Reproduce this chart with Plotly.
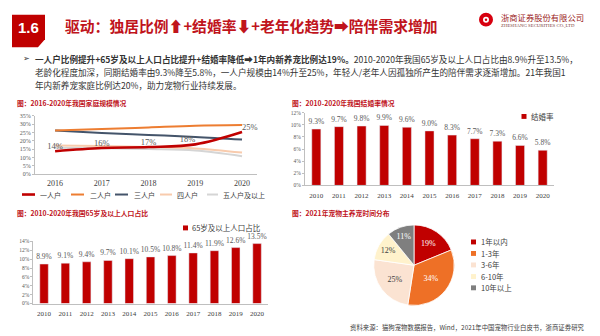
import plotly.graph_objects as go

W, H = 600, 336


def px(x):
    return x / W


def py(y):
    return 1 - y / H


# ---------------- data ----------------
hh_years = [2016, 2017, 2018, 2019, 2020]
hh_one = [13.8, 15.7, 16.3, 17.9, 25.3]
hh_two = [26.2, 27.1, 28.1, 29.1, 29.5]
hh_three = [26.2, 24.8, 23.6, 22.4, 20.8]
hh_four = [17.3, 17.0, 16.4, 15.5, 13.0]
hh_five = [15.9, 15.6, 15.1, 14.2, 10.8]
hh_one_labels = ["14%", "16%", "17%", "18%", "25%"]
hh_names = ["一人户", "二人户", "三人户", "四人户", "五人户及以上"]

years_11 = ["2010", "2011", "2012", "2013", "2014", "2015", "2016", "2017", "2018", "2019", "2020"]
marriage_rate = [9.3, 9.7, 9.8, 9.9, 9.6, 9.0, 8.3, 7.7, 7.3, 6.6, 5.8]
marriage_labels = ["9.3%", "9.7%", "9.8%", "9.9%", "9.6%", "9.0%", "8.3%", "7.7%", "7.3%", "6.6%", "5.8%"]
aged_share = [8.9, 9.1, 9.4, 9.7, 10.1, 10.5, 10.8, 11.4, 11.9, 12.6, 13.5]
aged_labels = ["8.9%", "9.1%", "9.4%", "9.7%", "10.1%", "10.5%", "10.8%", "11.4%", "11.9%", "12.6%", "13.5%"]

pet_time = ["1年以内", "1-3年", "3-6年", "6-10年", "10年以上"]
pet_share = [19, 34, 25, 12, 11]
pet_labels = ["19%", "34%", "25%", "12%", "11%"]

# ---------------- styles ----------------
RED = "#C00000"
TITLE_RED = "#C0141C"
hh_colors = ["#C00000", "#ED7D31", "#44546A", "#F8CBAD", "#D5D5D5"]
hh_widths = [2.6, 2, 2, 2, 2]
pet_colors = ["#C00000", "#EE7026", "#FBE3D2", "#FFF2CC", "#7F7F7F"]
pet_text_colors = ["white", "white", "#404040", "#404040", "white"]
CJK = "Noto Sans CJK SC"
SERIF = "Liberation Serif"
AX = "#BFBFBF"
TICK = "#595959"

fig = go.Figure()

# ---- chart 1: household size lines ----
series = [hh_one, hh_two, hh_three, hh_four, hh_five]
order = [4, 3, 2, 1, 0]
for i in order:
    fig.add_trace(go.Scatter(
        x=hh_years, y=series[i], name=hh_names[i],
        mode="lines+text" if i == 0 else "lines",
        line=dict(color=hh_colors[i], width=hh_widths[i], shape="spline"),
        text=hh_one_labels if i == 0 else None,
        textposition=["top center", "top center", "top center", "top left", "top right"] if i == 0 else None,
        textfont=dict(family=SERIF, size=8.5, color=TICK),
        cliponaxis=False,
        xaxis="x", yaxis="y", showlegend=False, hoverinfo="skip",
    ))

# ---- chart 2: marriage rate bars ----
fig.add_trace(go.Bar(
    x=years_11, y=marriage_rate, name="结婚率",
    marker=dict(color=RED), text=marriage_labels, textposition="outside", constraintext="none",
    textfont=dict(family=SERIF, size=7.5, color=TICK), cliponaxis=False,
    xaxis="x2", yaxis="y2", showlegend=False,
))

# ---- chart 3: 65+ population share bars ----
fig.add_trace(go.Bar(
    x=years_11, y=aged_share, name="65岁及以上人口占比",
    marker=dict(color=RED), text=aged_labels, textposition="outside", constraintext="none",
    textfont=dict(family=SERIF, size=7.5, color=TICK), cliponaxis=False,
    xaxis="x3", yaxis="y3", showlegend=False,
))

# ---- chart 4: pie ----
fig.add_trace(go.Pie(
    labels=pet_time, values=pet_share, text=pet_labels, textinfo="text",
    sort=False, direction="clockwise", rotation=0,
    marker=dict(colors=pet_colors, line=dict(color="white", width=0.8)),
    textfont=dict(family=SERIF, size=8, color=pet_text_colors),
    insidetextorientation="horizontal",
    domain=dict(x=[px(373), px(455)], y=[py(308), py(226)]),
    showlegend=False, hoverinfo="label+value",
))

axis_common = dict(showgrid=False, zeroline=False, showline=True, linecolor=AX, linewidth=1)
fig.update_layout(
    width=W, height=H, margin=dict(l=0, r=0, t=0, b=0),
    paper_bgcolor="white", plot_bgcolor="white", showlegend=False,
    bargap=0.6,
    xaxis=dict(domain=[px(35), px(257)], range=[2015.57, 2020.32], tickvals=hh_years,
               ticktext=[str(y) for y in hh_years], ticks="", ticklabelstandoff=1,
               tickfont=dict(family=SERIF, size=8, color="#404040"), anchor="y", **axis_common),
    yaxis=dict(domain=[py(174.3), py(115)], range=[0, 35], tickvals=list(range(0, 36, 5)),
               ticktext=[f"{v}%" for v in range(0, 36, 5)], ticks="outside", ticklen=2, tickcolor=AX,
               tickfont=dict(family=SERIF, size=6, color=TICK), anchor="x", **axis_common),
    xaxis2=dict(domain=[px(305), px(554)], type="category", ticks="", ticklabelstandoff=3,
                tickfont=dict(family=SERIF, size=7, color="#404040"), anchor="y2", **axis_common),
    yaxis2=dict(domain=[py(185.7), py(111.7)], range=[0, 12], tickvals=list(range(0, 13, 2)),
                ticktext=[f"{v}%" for v in range(0, 13, 2)], ticks="outside", ticklen=2, tickcolor=AX,
                tickfont=dict(family=SERIF, size=5.5, color=TICK), anchor="x2", **axis_common),
    xaxis3=dict(domain=[px(33.4), px(267.7)], type="category", ticks="", ticklabelstandoff=3,
                tickfont=dict(family=SERIF, size=7, color="#404040"), anchor="y3", **axis_common),
    yaxis3=dict(domain=[py(306), py(242.7)], range=[0, 14], tickvals=list(range(0, 15, 2)),
                ticktext=[f"{v}%" for v in range(0, 15, 2)], ticks="outside", ticklen=2, tickcolor=AX,
                tickfont=dict(family=SERIF, size=5.5, color=TICK), anchor="x3", **axis_common),
)

shapes = []
annotations = []


def text(x, y, s, size, color="#333333", family=CJK, xanchor="left", yanchor="middle"):
    annotations.append(dict(x=px(x), y=py(y), xref="paper", yref="paper", text=s, showarrow=False,
                            xanchor=xanchor, yanchor=yanchor, font=dict(family=family, size=size, color=color)))


# header box "1.6"
pts = [(12, 12), (45, 12), (45, 37), (38, 45), (12, 45)]
path = "M " + " L ".join(f"{px(x):.5f},{py(y):.5f}" for x, y in pts) + " Z"
shapes.append(dict(type="path", xref="paper", yref="paper", path=path, fillcolor="#C00000", line=dict(width=0)))
text(28.5, 25, "<b>1.6</b>", 15, "white", "Liberation Sans", xanchor="center")
text(63, 23, "<b>驱动：独居比例⬆+结婚率⬇+老年化趋势➡陪伴需求增加</b>", 14.8, TITLE_RED)

# logo
shapes.append(dict(type="circle", xref="paper", yref="paper", x0=px(479), x1=px(493), y0=py(24), y1=py(10),
                   fillcolor="#D7000F", line=dict(width=0)))
shapes.append(dict(type="circle", xref="paper", yref="paper", x0=px(483), x1=px(489), y0=py(20), y1=py(14),
                   fillcolor="white", line=dict(width=0)))
shapes.append(dict(type="circle", xref="paper", yref="paper", x0=px(484.8), x1=px(487.2), y0=py(18.2), y1=py(15.8),
                   fillcolor="#D7000F", line=dict(width=0)))
text(499, 14, "浙商证券股份有限公司", 8.3, "#9B1B22")
text(499, 23.5, "ZHESHANG SECURITIES CO.,LTD", 4.8, "#7A3B3B", SERIF)

# body text
text(21, 57, "➢", 8, "#333333", "DejaVu Sans")
text(33, 57, "<b>一人户比例提升+65岁及以上人口占比提升+结婚率降低➡1年内新养宠比例达19%。</b>2010-2020年我国65岁及以上人口占比由8.9%升至13.5%，", 8.6)
text(33, 70.5, "老龄化程度加深，同期结婚率由9.3%降至5.8%，一人户规模由14%升至25%，年轻人/老年人因孤独所产生的陪伴需求逐渐增加。21年我国1", 8.6)
text(33, 83.5, "年内新养宠家庭比例达20%，助力宠物行业持续发展。", 8.6)

# chart titles
text(15, 101.5, "<b>图：2016-2020年我国家庭规模情况</b>", 6.8, TITLE_RED)
text(290, 101.5, "<b>图：2010-2020年我国结婚率情况</b>", 6.8, TITLE_RED)
text(15, 214, "<b>图：2010-2020年我国65岁及以上人口占比</b>", 6.8, TITLE_RED)
text(290, 214, "<b>图：2021年宠物主养宠时间分布</b>", 6.8, TITLE_RED)

# chart 1 legend
LEG_Y = 195
leg1 = [(22, 35, 38), (71, 84, 88), (115, 128, 132), (160, 172, 175), (207, 218, 221)]
for i, (x0, x1, tx) in enumerate(leg1):
    shapes.append(dict(type="line", xref="paper", yref="paper", x0=px(x0), x1=px(x1), y0=py(LEG_Y), y1=py(LEG_Y),
                       line=dict(color=hh_colors[i], width=hh_widths[i])))
    text(tx, LEG_Y, hh_names[i], 7, "#404040")

# chart 2 legend
shapes.append(dict(type="rect", xref="paper", yref="paper", x0=px(521.5), x1=px(526.5), y0=py(118), y1=py(113),
                   fillcolor=RED, line=dict(width=0)))
text(529, 115.5, "结婚率", 7.5, "#404040")

# chart 3 legend
shapes.append(dict(type="rect", xref="paper", yref="paper", x0=px(183), x1=px(188), y0=py(231.5), y1=py(226.5),
                   fillcolor=RED, line=dict(width=0)))
text(190, 229, "65岁及以上人口占比", 7.5, "#404040")

# pie legend
for i, yy in enumerate([243.3, 255, 266.7, 278.5, 290]):
    shapes.append(dict(type="rect", xref="paper", yref="paper", x0=px(471), x1=px(476), y0=py(yy + 2.5), y1=py(yy - 2.5),
                       fillcolor=pet_colors[i], line=dict(width=0)))
    text(478.5, yy, pet_time[i], 7.5, "#404040")

# source
text(348, 330, "资料来源：猫狗宠物数据报告，Wind，2021年中国宠物行业白皮书，浙商证券研究", 6.4, "#404040")

fig.update_layout(shapes=shapes, annotations=annotations)
fig.write_html("out.html")
